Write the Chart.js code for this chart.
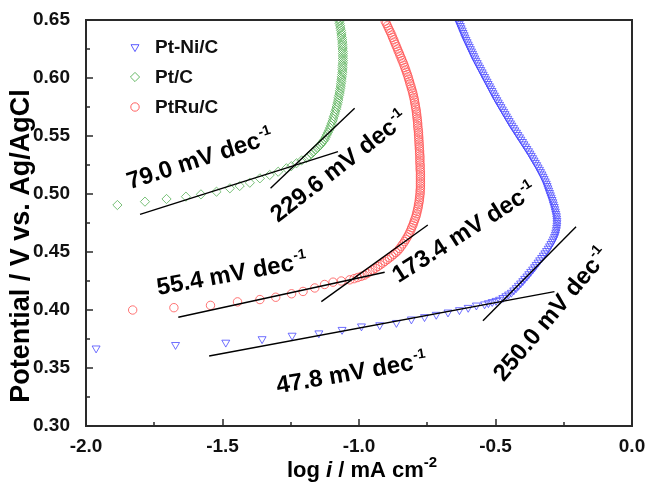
<!DOCTYPE html>
<html>
<head>
<meta charset="utf-8">
<script src="https://cdn.jsdelivr.net/npm/chart.js@4/dist/chart.umd.min.js"></script>
<style>
  body { margin: 0; background: #fff; }
  #wrap { width: 646px; height: 484px; position: relative; }
</style>
</head>
<body>
<div id="wrap"><canvas id="tafel"></canvas></div>
<script>
// Pt-Ni/C (blue triangles)
const ptNiX = [-1.963, -1.672, -1.488, -1.355, -1.245, -1.147, -1.062, -0.991, -0.924, -0.863,
  -0.808, -0.760, -0.717, -0.674, -0.632, -0.600, -0.570, -0.540, -0.526, -0.512,
  -0.498, -0.485, -0.473, -0.462, -0.452, -0.442, -0.433, -0.424, -0.416, -0.408,
  -0.400, -0.393, -0.385, -0.378, -0.371, -0.364, -0.357, -0.351, -0.344, -0.338,
  -0.331, -0.325, -0.319, -0.313, -0.307, -0.302, -0.297, -0.292, -0.288, -0.284,
  -0.281, -0.279, -0.277, -0.276, -0.275, -0.275, -0.275, -0.276, -0.277, -0.279,
  -0.281, -0.283, -0.285, -0.288, -0.290, -0.293, -0.296, -0.299, -0.302, -0.305,
  -0.308, -0.311, -0.314, -0.318, -0.322, -0.326, -0.330, -0.335, -0.339, -0.344,
  -0.349, -0.354, -0.359, -0.364, -0.369, -0.374, -0.379, -0.385, -0.390, -0.396,
  -0.401, -0.407, -0.412, -0.418, -0.423, -0.429, -0.434, -0.440, -0.445, -0.450,
  -0.455, -0.460, -0.465, -0.470, -0.475, -0.480, -0.485, -0.490, -0.495, -0.500,
  -0.504, -0.509, -0.513, -0.518, -0.522, -0.527, -0.531, -0.536, -0.540, -0.545,
  -0.549, -0.554, -0.558, -0.563, -0.567, -0.572, -0.576, -0.580, -0.584, -0.588,
  -0.592, -0.596, -0.600, -0.604, -0.608, -0.612, -0.615, -0.619, -0.622, -0.626,
  -0.629, -0.633, -0.636, -0.640];
const ptNiY = [0.367, 0.370, 0.372, 0.375, 0.378, 0.380, 0.383, 0.386, 0.387, 0.389,
  0.392, 0.394, 0.396, 0.398, 0.400, 0.402, 0.404, 0.405, 0.406, 0.407,
  0.408, 0.409, 0.4105, 0.412, 0.4135, 0.415, 0.417, 0.419, 0.421, 0.423,
  0.425, 0.427, 0.429, 0.431, 0.433, 0.435, 0.437, 0.439, 0.441, 0.443,
  0.445, 0.447, 0.449, 0.451, 0.453, 0.455, 0.457, 0.459, 0.461, 0.463,
  0.465, 0.467, 0.469, 0.471, 0.473, 0.475, 0.477, 0.479, 0.481, 0.483,
  0.485, 0.487, 0.489, 0.491, 0.493, 0.495, 0.497, 0.499, 0.501, 0.503,
  0.505, 0.507, 0.509, 0.511, 0.513, 0.515, 0.517, 0.519, 0.521, 0.523,
  0.525, 0.527, 0.529, 0.531, 0.533, 0.535, 0.537, 0.539, 0.541, 0.543,
  0.545, 0.547, 0.549, 0.551, 0.553, 0.555, 0.557, 0.559, 0.561, 0.563,
  0.565, 0.567, 0.569, 0.571, 0.573, 0.575, 0.577, 0.579, 0.581, 0.583,
  0.585, 0.587, 0.589, 0.591, 0.593, 0.595, 0.597, 0.599, 0.601, 0.603,
  0.605, 0.607, 0.609, 0.611, 0.613, 0.615, 0.617, 0.619, 0.621, 0.623,
  0.625, 0.627, 0.629, 0.631, 0.633, 0.635, 0.637, 0.639, 0.641, 0.643,
  0.645, 0.647, 0.649, 0.651];

// Pt/C (green diamonds)
const ptCX = [-1.885, -1.784, -1.705, -1.634, -1.579, -1.522, -1.473, -1.437, -1.400, -1.363,
  -1.327, -1.296, -1.266, -1.248, -1.229, -1.210, -1.192, -1.183, -1.175, -1.168,
  -1.160, -1.153, -1.147, -1.141, -1.136, -1.131, -1.126, -1.122, -1.118, -1.114,
  -1.110, -1.106, -1.103, -1.100, -1.097, -1.094, -1.092, -1.089, -1.087, -1.084,
  -1.082, -1.080, -1.078, -1.076, -1.075, -1.073, -1.071, -1.070, -1.068, -1.067,
  -1.066, -1.065, -1.064, -1.063, -1.062, -1.061, -1.061, -1.060, -1.060, -1.059,
  -1.059, -1.059, -1.059, -1.059, -1.059, -1.060, -1.060, -1.061, -1.061, -1.062,
  -1.063, -1.064, -1.065, -1.066, -1.068, -1.069, -1.071, -1.072, -1.074];
const ptCY = [0.4905, 0.4934, 0.4957, 0.4977, 0.4997, 0.5020, 0.5049, 0.5069, 0.5097, 0.5135,
  0.5164, 0.5192, 0.5222, 0.5240, 0.5265, 0.5290, 0.5310, 0.5330, 0.5345, 0.5360,
  0.5380, 0.5395, 0.5410, 0.5425, 0.5440, 0.5455, 0.5470, 0.5490, 0.5510, 0.5530,
  0.5550, 0.5570, 0.5590, 0.5610, 0.5630, 0.5650, 0.5670, 0.5690, 0.5710, 0.5730,
  0.5750, 0.5770, 0.5790, 0.5810, 0.5830, 0.5850, 0.5870, 0.5890, 0.5910, 0.5930,
  0.5950, 0.5970, 0.5990, 0.6010, 0.6030, 0.6050, 0.6070, 0.6090, 0.6110, 0.6130,
  0.6150, 0.6170, 0.6190, 0.6210, 0.6230, 0.6250, 0.6270, 0.6290, 0.6310, 0.6330,
  0.6350, 0.6370, 0.6390, 0.6410, 0.6430, 0.6450, 0.6470, 0.6490, 0.6510];

// PtRu/C (red circles)
const ptRuX = [-1.829, -1.678, -1.544, -1.445, -1.363, -1.305, -1.247, -1.205, -1.162, -1.126,
  -1.095, -1.065, -1.034, -1.018, -1.005, -0.992, -0.980, -0.970, -0.960, -0.950,
  -0.940, -0.931, -0.922, -0.913, -0.905, -0.896, -0.888, -0.880, -0.873, -0.865,
  -0.858, -0.851, -0.845, -0.839, -0.833, -0.828, -0.823, -0.818, -0.814, -0.810,
  -0.807, -0.803, -0.800, -0.797, -0.794, -0.791, -0.789, -0.787, -0.785, -0.783,
  -0.782, -0.780, -0.779, -0.778, -0.777, -0.776, -0.776, -0.775, -0.775, -0.775,
  -0.775, -0.775, -0.775, -0.775, -0.775, -0.776, -0.776, -0.776, -0.777, -0.777,
  -0.777, -0.777, -0.778, -0.778, -0.779, -0.779, -0.780, -0.780, -0.781, -0.781,
  -0.782, -0.782, -0.783, -0.784, -0.785, -0.785, -0.786, -0.787, -0.788, -0.789,
  -0.790, -0.791, -0.793, -0.794, -0.796, -0.797, -0.799, -0.801, -0.803, -0.805,
  -0.808, -0.810, -0.813, -0.815, -0.818, -0.820, -0.823, -0.826, -0.829, -0.832,
  -0.835, -0.838, -0.842, -0.845, -0.849, -0.852, -0.856, -0.859, -0.863, -0.866,
  -0.870, -0.873, -0.877, -0.880, -0.884, -0.888, -0.892, -0.896, -0.900, -0.904];
const ptRuY = [0.400, 0.402, 0.404, 0.407, 0.409, 0.411, 0.414, 0.416, 0.419, 0.422,
  0.424, 0.425, 0.426, 0.427, 0.428, 0.429, 0.430, 0.4315, 0.433, 0.4345,
  0.436, 0.4375, 0.439, 0.4405, 0.442, 0.4435, 0.445, 0.4465, 0.448, 0.4495,
  0.451, 0.453, 0.455, 0.457, 0.459, 0.461, 0.463, 0.465, 0.467, 0.469,
  0.471, 0.473, 0.475, 0.477, 0.479, 0.481, 0.483, 0.485, 0.487, 0.489,
  0.491, 0.493, 0.495, 0.497, 0.499, 0.501, 0.503, 0.505, 0.507, 0.509,
  0.511, 0.513, 0.515, 0.517, 0.519, 0.521, 0.523, 0.525, 0.527, 0.529,
  0.531, 0.533, 0.535, 0.537, 0.539, 0.541, 0.543, 0.545, 0.547, 0.549,
  0.551, 0.553, 0.555, 0.557, 0.559, 0.561, 0.563, 0.565, 0.567, 0.569,
  0.571, 0.573, 0.575, 0.577, 0.579, 0.581, 0.583, 0.585, 0.587, 0.589,
  0.591, 0.593, 0.595, 0.597, 0.599, 0.601, 0.603, 0.605, 0.607, 0.609,
  0.611, 0.613, 0.615, 0.617, 0.619, 0.621, 0.623, 0.625, 0.627, 0.629,
  0.631, 0.633, 0.635, 0.637, 0.639, 0.641, 0.643, 0.645, 0.647, 0.649, 0.651];

// Tafel fit lines: [start, end] as [log i, E]
const tafelFits = [
  [[-1.802, 0.4825], [-1.077, 0.5365]],
  [[-1.324, 0.5049], [-1.016, 0.5739]],
  [[-1.662, 0.3937], [-0.906, 0.4325]],
  [[-1.138, 0.4072], [-0.748, 0.4733]],
  [[-1.549, 0.3603], [-0.284, 0.4158]],
  [[-0.546, 0.3908], [-0.205, 0.4718]]
];
const tafelSlopes = ['79.0', '229.6', '55.4', '173.4', '47.8', '250.0'];

const seriesNames = ['Pt-Ni/C', 'Pt/C', 'PtRu/C'];
const xTicks = [-2.0, -1.5, -1.0, -0.5, 0.0];
const yTicks = [0.30, 0.35, 0.40, 0.45, 0.50, 0.55, 0.60, 0.65];
const xMinor = [-1.75, -1.25, -0.75, -0.25];
const yMinor = [0.325, 0.375, 0.425, 0.475, 0.525, 0.575, 0.625];

// where each slope label starts (data coords) and its tilt in degrees
const labelSpots = [
  { x: -1.840, y: 0.5040, angle: -17.8 },
  { x: -1.297, y: 0.4750, angle: -37.7 },
  { x: -1.735, y: 0.4130, angle: -10.3 },
  { x: -0.855, y: 0.4230, angle: -32.6 },
  { x: -1.298, y: 0.3282, angle: -9.8 },
  { x: -0.470, y: 0.3375, angle: -50 }
];

const FONT = '"Liberation Sans", Arial, sans-serif';
const FRAME = '#2a2a2a';
const zip = (xs, ys) => xs.map((v, i) => ({ x: v, y: ys[i] }));

const curveStyle = [
  { color: '#4a4aff', pointStyle: 'triangle', rotation: 180, radius: 4.6 },
  { color: '#55b055', pointStyle: 'rectRot', rotation: 0, radius: 4.6 },
  { color: '#ff5050', pointStyle: 'circle', rotation: 0, radius: 4.2 }
];
const curveData = [zip(ptNiX, ptNiY), zip(ptCX, ptCY), zip(ptRuX, ptRuY)];

const datasets = curveData.map((d, i) => ({
  label: seriesNames[i],
  data: d,
  showLine: false,
  pointStyle: curveStyle[i].pointStyle,
  rotation: curveStyle[i].rotation,
  pointRadius: curveStyle[i].radius,
  pointBorderWidth: 0.8,
  borderColor: curveStyle[i].color,
  backgroundColor: 'rgba(0,0,0,0)',
  clip: 0,
  order: 2
}));
tafelFits.forEach((f, i) => {
  datasets.push({
    label: 'fit ' + tafelSlopes[i],
    data: f.map(p => ({ x: p[0], y: p[1] })),
    showLine: true,
    pointRadius: 0,
    borderColor: '#000',
    borderWidth: 1.4,
    order: 1
  });
});

// frame, inward ticks, legend, axis titles, slope labels
const decorations = {
  id: 'decorations',
  afterDraw(chart) {
    const { ctx, chartArea: a, scales: { x, y } } = chart;
    const L = Math.round(a.left), R = Math.round(a.right), T = Math.round(a.top), B = Math.round(a.bottom);
    ctx.save();
    ctx.strokeStyle = FRAME;
    ctx.lineWidth = 2;
    ctx.strokeRect(L, T, R - L, B - T);

    ctx.lineWidth = 1.5;
    ctx.beginPath();
    xTicks.forEach(v => { const px = Math.round(x.getPixelForValue(v)); ctx.moveTo(px, B); ctx.lineTo(px, B - 7); });
    xMinor.forEach(v => { const px = Math.round(x.getPixelForValue(v)); ctx.moveTo(px, B); ctx.lineTo(px, B - 4); });
    yTicks.forEach(v => { const py = Math.round(y.getPixelForValue(v)); ctx.moveTo(L, py); ctx.lineTo(L + 7, py); });
    yMinor.forEach(v => { const py = Math.round(y.getPixelForValue(v)); ctx.moveTo(L, py); ctx.lineTo(L + 4, py); });
    ctx.stroke();

    // legend
    seriesNames.forEach((name, i) => {
      const yy = 47 + i * 30;
      ctx.strokeStyle = curveStyle[i].color;
      ctx.fillStyle = 'rgba(0,0,0,0)';
      ctx.lineWidth = 0.9;
      Chart.helpers.drawPoint(ctx, {
        pointStyle: curveStyle[i].pointStyle,
        rotation: curveStyle[i].rotation,
        radius: curveStyle[i].radius,
        borderWidth: 0.9
      }, 135, yy);
      ctx.fillStyle = '#111';
      ctx.font = 'bold 19px ' + FONT;
      ctx.textAlign = 'left';
      ctx.textBaseline = 'middle';
      ctx.fillText(name, 155, yy + 1);
    });

    // slope labels
    ctx.fillStyle = '#000';
    labelSpots.forEach((s, i) => {
      ctx.save();
      ctx.translate(x.getPixelForValue(s.x), y.getPixelForValue(s.y));
      ctx.rotate(s.angle * Math.PI / 180);
      ctx.textAlign = 'left';
      ctx.textBaseline = 'alphabetic';
      ctx.font = 'bold 24px ' + FONT;
      const txt = tafelSlopes[i] + ' mV dec';
      ctx.fillText(txt, 0, 0);
      const w = ctx.measureText(txt).width;
      ctx.font = 'bold 14px ' + FONT;
      ctx.fillText('-1', w + 1, -10);
      ctx.restore();
    });

    // y title
    ctx.save();
    ctx.translate(29, 246);
    ctx.rotate(-Math.PI / 2);
    ctx.font = 'bold 27px ' + FONT;
    ctx.textAlign = 'center';
    ctx.textBaseline = 'alphabetic';
    ctx.fillText('Potential / V vs. Ag/AgCl', 0, 0);
    ctx.restore();

    // x title: log i / mA cm-2
    const parts = [
      { t: 'log ', f: 'bold 22px ' + FONT, dy: 0 },
      { t: 'i', f: 'italic bold 22px ' + FONT, dy: 0 },
      { t: ' / mA cm', f: 'bold 22px ' + FONT, dy: 0 },
      { t: '-2', f: 'bold 15px ' + FONT, dy: -10 }
    ];
    let total = 0;
    parts.forEach(p => { ctx.font = p.f; p.w = ctx.measureText(p.t).width; total += p.w; });
    let cx = 362 - total / 2;
    ctx.textAlign = 'left';
    ctx.textBaseline = 'alphabetic';
    parts.forEach(p => { ctx.font = p.f; ctx.fillText(p.t, cx, 477 + p.dy); cx += p.w; });
    ctx.restore();
  }
};

new Chart(document.getElementById('tafel'), {
  type: 'scatter',
  data: { datasets },
  options: {
    responsive: true,
    maintainAspectRatio: false,
    animation: false,
    devicePixelRatio: 1,
    layout: { padding: { left: 0, top: 20, right: 14, bottom: 0 } },
    plugins: { legend: { display: false }, tooltip: { enabled: false } },
    scales: {
      x: {
        type: 'linear',
        min: -2.0,
        max: 0.0,
        afterBuildTicks: s => { s.ticks = xTicks.map(v => ({ value: v })); },
        afterFit: s => { s.height = 58; s.paddingLeft = 0; s.paddingRight = 0; },
        grid: { display: false },
        border: { display: false },
        ticks: {
          padding: 1,
          color: '#111',
          font: { family: FONT, size: 19, weight: 'bold' },
          callback: v => v.toFixed(1)
        }
      },
      y: {
        type: 'linear',
        min: 0.30,
        max: 0.65,
        afterBuildTicks: s => { s.ticks = yTicks.map(v => ({ value: v })); },
        afterFit: s => { s.width = 86; s.paddingTop = 0; s.paddingBottom = 0; },
        grid: { display: false },
        border: { display: false },
        ticks: {
          padding: 8,
          color: '#111',
          font: { family: FONT, size: 19, weight: 'bold' },
          callback: v => v.toFixed(2)
        }
      }
    }
  },
  plugins: [decorations]
});
</script>
</body>
</html>
